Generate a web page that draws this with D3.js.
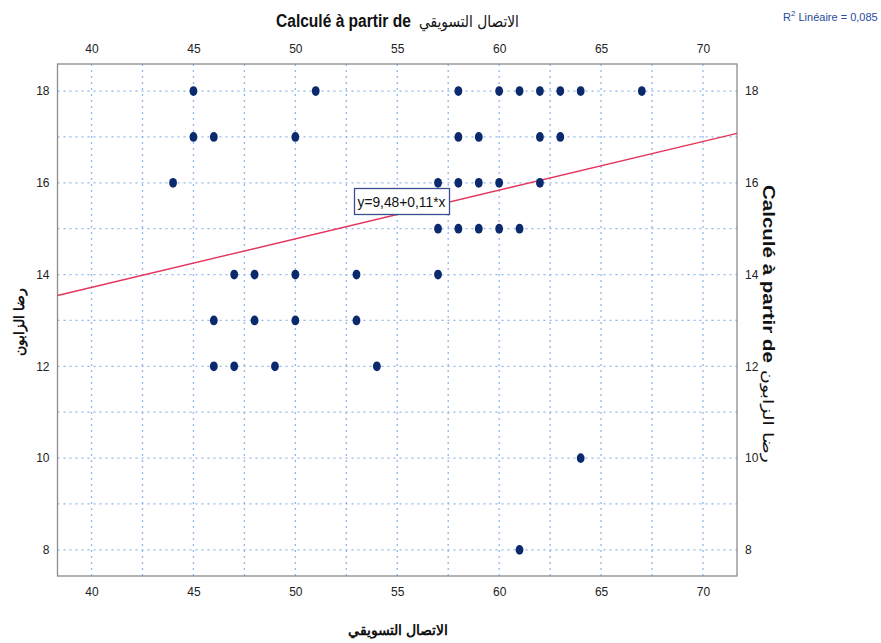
<!DOCTYPE html>
<html><head><meta charset="utf-8">
<script src="https://cdn.jsdelivr.net/npm/d3@7"></script>
<style>body{margin:0;background:#fff;} svg{display:block;font-family:"Liberation Sans",Arial,sans-serif;}</style>
</head><body>
<script>
// Data: x = الاتصال التسويقي, y = رضا الزابون
const xValues = [45,51,58,60,61,62,63,64,67, 45,46,50,58,59,62,63, 44,57,58,59,60,62, 57,58,59,60,61, 47,48,50,53,57, 46,48,50,53, 46,47,49,54, 64, 61];
const yValues = [18,18,18,18,18,18,18,18,18, 17,17,17,17,17,17,17, 16,16,16,16,16,16, 15,15,15,15,15, 14,14,14,14,14, 13,13,13,13, 12,12,12,12, 10, 8];
const xTicks = [40,45,50,55,60,65,70];
const yTicks = [8,10,12,14,16,18];
const fitIntercept = 9.48;
const fitSlope = 0.106;
const fitLabel = "y=9,48+0,11*x";
const r2Label = "0,085";

const W = 881, H = 643;
const svg = d3.select("body").append("svg").attr("width", W).attr("height", H);
const L = 57.5, R = 737, T = 64, B = 576;
const x = d3.scaleLinear().domain([38.33, 71.67]).range([L, R]);
const y = d3.scaleLinear().domain([7.43, 18.59]).range([B, T]);

// place a text at (px,py) scaled horizontally to a target width
function fitText(parent, px, py, target, str, attrs) {
  const g = parent.append("g");
  const t = g.append("text").attr("x", 0).attr("y", 0).attr("fill", "#111").text(str);
  for (const k in attrs) t.attr(k, attrs[k]);
  const w = t.node().getComputedTextLength();
  g.attr("transform", `translate(${px},${py}) scale(${target / w},1)`);
  return t;
}

// grid
const gridColor = "#8fb8ec";
const gx = d3.range(40, 71, 2.5);
const gy = d3.range(8, 19, 1);
svg.append("g").selectAll("line").data(gx).join("line")
  .attr("x1", d => x(d)).attr("x2", d => x(d)).attr("y1", T).attr("y2", B)
  .attr("stroke", gridColor).attr("stroke-width", 1.3).attr("stroke-dasharray", "2,4");
svg.append("g").selectAll("line").data(gy).join("line")
  .attr("y1", d => y(d)).attr("y2", d => y(d)).attr("x1", L).attr("x2", R)
  .attr("stroke", gridColor).attr("stroke-width", 1.3).attr("stroke-dasharray", "2,4");

// frame
svg.append("rect").attr("x", L).attr("y", T).attr("width", R - L).attr("height", B - T)
  .attr("fill", "none").attr("stroke", "#8c8c8c").attr("stroke-width", 1.3);

// axes (labels only)
const tickFont = g => g.selectAll("text").attr("font-size", 12).attr("fill", "#222").attr("font-family", "Liberation Sans, Arial, sans-serif");
const clean = g => { g.select(".domain").remove(); g.selectAll(".tick line").remove(); };
svg.append("g").attr("transform", `translate(0,${B})`)
  .call(d3.axisBottom(x).tickValues(xTicks).tickSize(0).tickPadding(11)).call(clean).call(tickFont);
svg.append("g").attr("transform", `translate(0,${T})`)
  .call(d3.axisTop(x).tickValues(xTicks).tickSize(0).tickPadding(11)).call(clean).call(tickFont);
svg.append("g").attr("transform", `translate(${L},0)`)
  .call(d3.axisLeft(y).tickValues(yTicks).tickSize(0).tickPadding(8)).call(clean).call(tickFont);
svg.append("g").attr("transform", `translate(${R},0)`)
  .call(d3.axisRight(y).tickValues(yTicks).tickSize(0).tickPadding(8)).call(clean).call(tickFont);

// fit line
const xd = x.domain();
svg.append("line")
  .attr("x1", x(xd[0])).attr("y1", y(fitIntercept + fitSlope * xd[0]))
  .attr("x2", x(xd[1])).attr("y2", y(fitIntercept + fitSlope * xd[1]))
  .attr("stroke", "#e4345c").attr("stroke-width", 1.4);

// points
svg.append("g").selectAll("ellipse").data(xValues.map((v, i) => [v, yValues[i]])).join("ellipse")
  .attr("cx", d => x(d[0])).attr("cy", d => y(d[1])).attr("rx", 3.9).attr("ry", 4.9)
  .attr("fill", "#0b2a6e");

// fit label box
const bx = 354.5, by = 188.5;
svg.append("rect").attr("x", bx).attr("y", by).attr("width", 95).attr("height", 26)
  .attr("fill", "#fff").attr("stroke", "#3a4f8f").attr("stroke-width", 1.3);
fitText(svg, bx + 3, by + 18.5, 88, fitLabel, {"font-size": 14.5});

// R2 label
const r2 = svg.append("text").attr("x", 783).attr("y", 21).attr("font-size", 11).attr("fill", "#2a4a9c");
r2.append("tspan").text("R");
r2.append("tspan").attr("font-size", 8).attr("dy", -5).text("2");
r2.append("tspan").attr("dy", 5).text(" Linéaire = " + r2Label);

// title
fitText(svg, 276, 27, 135, "Calculé à partir de", {"font-size": 18.5, "font-weight": "bold"});
fitText(svg, 419, 27, 100, "الاتصال التسويقي", {"font-size": 16, "font-family": "DejaVu Sans, sans-serif"});

// bottom label
svg.append("text").attr("x", 398).attr("y", 635).attr("text-anchor", "middle").attr("font-size", 14)
  .attr("font-weight", "bold").attr("fill", "#111").text("الاتصال التسويقي");

// left label
svg.append("text").attr("transform", "translate(24,322) rotate(-90)").attr("text-anchor", "middle")
  .attr("font-size", 14).attr("font-weight", "bold").attr("fill", "#111").text("رضا الزابون");

// right label
const rg = svg.append("g").attr("transform", "translate(763,0) rotate(90)");
fitText(rg, 185, 0, 178, "Calculé à partir de", {"font-size": 16, "font-weight": "bold"});
fitText(rg, 370, 0, 93, "رضا الزابون", {"font-size": 15, "font-family": "DejaVu Sans, sans-serif"});
</script>
</body></html>
